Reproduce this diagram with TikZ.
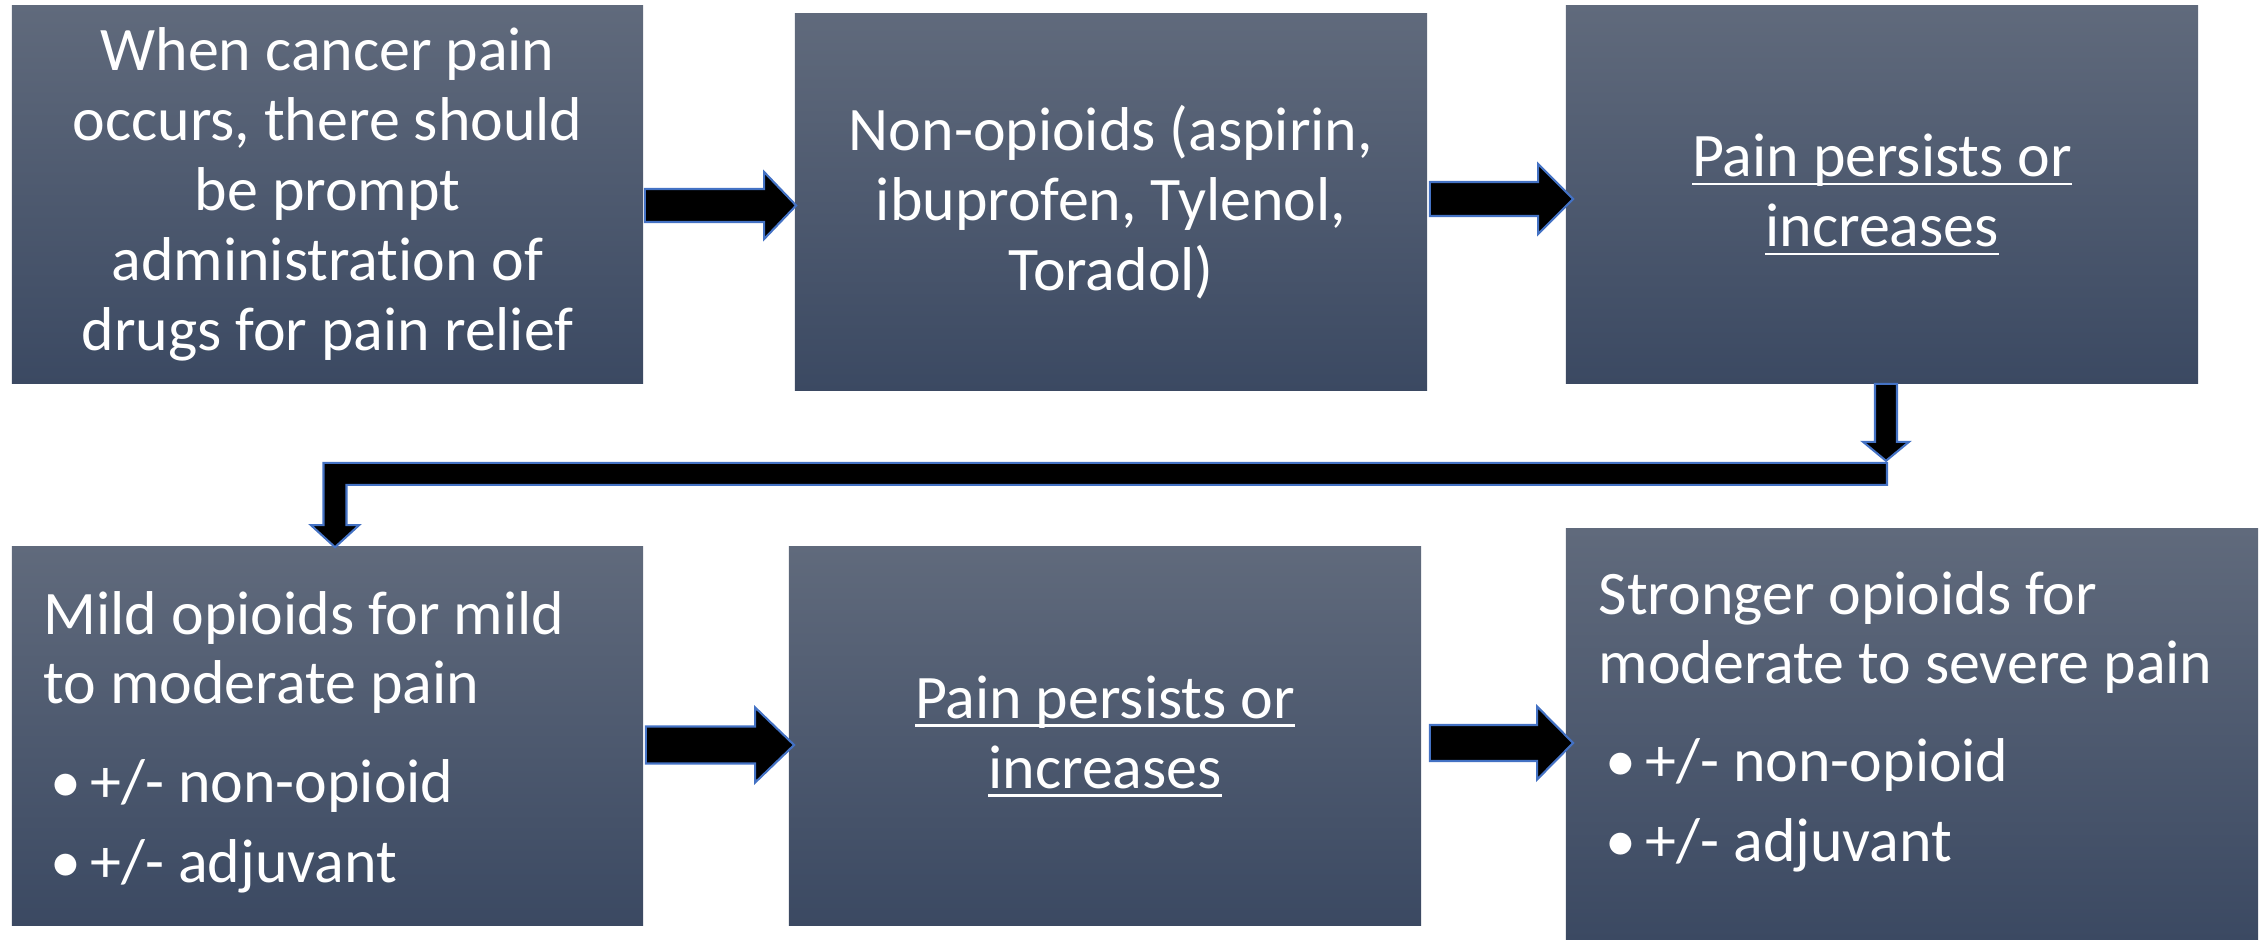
\documentclass[tikz,border=0pt]{standalone}
\usepackage{fontspec}
\setmainfont{Carlito}[Ligatures=NoCommon]
\usetikzlibrary{calc,positioning}
\definecolor{boxtop}{RGB}{96,106,124}
\definecolor{boxbot}{RGB}{59,73,98}
\definecolor{arrowline}{RGB}{68,114,196}
\tikzset{%
        stage/.style = { inner sep=0pt, top color=boxtop, bottom color=boxbot, text=white, align=center, font=\stagefont },
    stagetext/.style = { inner sep=0pt, text=white, text width=6.6cm, align=flush left, anchor=base west, font=\stagefont },
     fatarrow/.style = { fill=black, draw=arrowline, line width=0.6pt, line join=miter }
}
\newcommand{\stagefont}{\fontsize{17.6pt}{19.9pt}\selectfont}
\newcommand{\undl}[1]{\setbox0\hbox{#1}\rlap{\rule[-0.085cm]{\wd0}{0.024cm}}\box0}
\newcommand{\bul}{\hspace*{0.07cm}\makebox[0.40cm][l]{•}}
% block arrow pointing right: tail, tip, shaft half, head half, head length
\newcommand{\rightblock}[5]{%
  \draw[fatarrow] ($(#1)+(0,-#3)$) -- ($(#2)+(-#5,-#3)$) -- ($(#2)+(-#5,-#4)$) -- (#2)
    -- ($(#2)+(-#5,#4)$) -- ($(#2)+(-#5,#3)$) -- ($(#1)+(0,#3)$) -- cycle;}

\begin{document}
\begin{tikzpicture}[x=0.01cm,y=-0.01cm]
\useasboundingbox (0,0) rectangle (2267,940);
% boxes
\node[stage, minimum width=6.31cm, minimum height=3.77cm] (start) at (327.5,194.5)
  {When cancer pain\\occurs, there should\\be prompt\\administration of\\drugs for pain relief};
\node[stage, minimum width=6.32cm, minimum height=3.76cm] (nonop) at (1111,202)
  {Non-opioids (aspirin,\\ibuprofen, Tylenol,\\Toradol)};
\node[stage, minimum width=6.32cm, minimum height=3.77cm] (persist1) at (1882,194.5)
  {\undl{Pain persists or}\\\undl{increases}};
\node[stage, minimum width=6.31cm, minimum height=3.78cm] (mild) at (327.5,736) {};
\node[stage, minimum width=6.32cm, minimum height=3.78cm] (persist2) at (1105,736)
  {\undl{Pain persists or}\\\undl{increases}};
\node[stage, minimum width=6.92cm, minimum height=4.11cm] (strong) at (1912,734.5) {};
\node[stagetext] (mildtxt) at (43,634)
  {Mild opioids for mild\\to moderate pain\\[8pt]\bul +/- non-opioid\\[3.1pt]\bul +/- adjuvant};
\node[stagetext] (strongtxt) at (1598,614)
  {Stronger opioids for\\moderate to severe pain\\[7.7pt]\bul +/- non-opioid\\[3.1pt]\bul +/- adjuvant};

% straight arrows
\coordinate (a1s) at ($(start.east)+(1,11)$);
\coordinate (a1t) at ($(a1s -| nonop.west)+(2,0)$);
\rightblock{a1s}{a1t}{16.5}{33.5}{32}
\coordinate (a2s) at ($(nonop.east)+(2,-3)$);
\coordinate (a2t) at ($(a2s -| persist1.west)+(8,0)$);
\rightblock{a2s}{a2t}{17}{35}{35}
\coordinate (a3s) at ($(mild.east)+(2,9)$);
\coordinate (a3t) at ($(a3s -| persist2.west)+(6,0)$);
\rightblock{a3s}{a3t}{18.5}{37.5}{39}
\coordinate (a4s) at ($(persist2.east)+(8,7)$);
\coordinate (a4t) at ($(a4s -| strong.west)+(8,0)$);
\rightblock{a4s}{a4t}{18}{36.5}{36}

% elbow down to the second row
\coordinate (d1) at ($(persist1.south)+(4,0)$);
\coordinate (d2) at ($(d1)+(0,77)$);
\draw[fatarrow] ($(d1)+(-11,0)$) -- ($(d2)+(-11,-19)$) -- ($(d2)+(-23,-19)$) -- (d2)
  -- ($(d2)+(23,-19)$) -- ($(d2)+(11,-19)$) -- ($(d1)+(11,0)$) -- cycle;
\coordinate (e1) at ($(d2)+(1,13)$);
\coordinate (e3) at ($(mild.north)+(7.5,1)$);
\coordinate (e2) at (e1 -| e3);
\draw[fatarrow] ($(e1)+(0,-11)$) -- ($(e2)+(-11.5,-11)$) -- ($(e3)+(-11.5,-22)$) -- ($(e3)+(-24,-22)$)
  -- (e3) -- ($(e3)+(24,-22)$) -- ($(e3)+(11.5,-22)$) -- ($(e2)+(11.5,11)$) -- ($(e1)+(0,11)$) -- cycle;
\end{tikzpicture}
\end{document}
